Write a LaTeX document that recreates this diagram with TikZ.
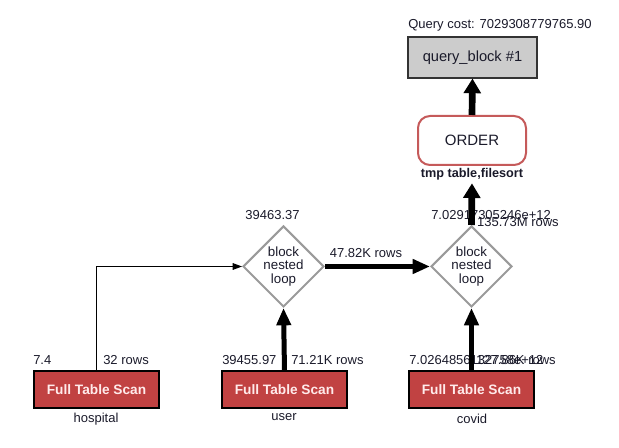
\documentclass[tikz,border=0pt]{standalone}
\usepackage{fontspec}
\setmainfont{Liberation Sans}
\usetikzlibrary{positioning, shapes.geometric, arrows.meta}
\definecolor{xscan}{HTML}{C14242}
\definecolor{xorder}{HTML}{C55A5A}
\definecolor{xgrey}{HTML}{9A9A9A}
\definecolor{xtext}{HTML}{1A1A2A}
\tikzset{
	scanbox/.style={draw=black, fill=xscan, text=white!92!red, line width=0.8pt, inner sep=0pt,
		minimum width=93.75pt, minimum height=27.75pt, font=\bfseries\fontsize{10.25}{12}\selectfont},
	loopbox/.style={diamond, draw=xgrey, line width=1.5pt, inner sep=0pt, aspect=1,
		minimum width=60.75pt, minimum height=60.75pt, align=center, text=xtext,
		font=\fontsize{10}{10}\selectfont},
	orderbox/.style={draw=xorder, line width=1.5pt, rounded corners=9pt, inner sep=0pt,
		minimum width=81pt, minimum height=36.75pt, text=xtext, font=\fontsize{11.25}{13}\selectfont},
	blockbox/.style={draw=black!80, fill=gray!40, line width=0.8pt, inner sep=0pt,
		minimum width=96.75pt, minimum height=30.75pt, text=xtext, font=\fontsize{11}{13}\selectfont},
	lbl/.style={inner sep=0pt, text=xtext, font=\fontsize{9.75}{11}\selectfont},
	thinarrow/.style={line width=0.75pt, -{Triangle[length=7pt, width=5pt]}},
	fatarrow/.style={line width=3.75pt, -{Triangle[length=13pt, width=10.5pt]}},
	fatterarrow/.style={line width=5pt, -{Triangle[length=11pt, width=12.5pt]}},
}

\begin{document}
\begin{tikzpicture}[x=0.75pt, y=-0.75pt]
	\useasboundingbox (0,0) rectangle (619,448);

	% top of the plan
	\node[lbl] (cost) at (500,25) {Query cost: 7029308779765.90};
	\node[blockbox] (qblock) at (472.5,57.5) {query\_block \#1};
	\node[orderbox] (order) at (472,140.5) {ORDER};
	\node[lbl, font=\bfseries\fontsize{9.5}{11}\selectfont] (tmp) at (472,174.5) {tmp table,filesort};

	% joins
	\node[loopbox] (join1) at (283.5,266.5) {block\\nested\\loop};
	\node[loopbox] (join2) at (471.5,266.5) {block\\nested\\loop};
	\node[lbl] (join1cost) at (272.5,215) {39463.37};
	\node[lbl, anchor=west] (join2cost) at (431,215) {7.02917305246e+12};
	\node[lbl, anchor=east] (join2rows) at (559,222) {135.73M rows};
	\node[lbl] (join1rows) at (366,253) {47.82K rows};

	% table scans
	\node[scanbox] (hospital) at (96.5,389.5) {Full Table Scan};
	\node[scanbox] (user) at (284.5,389.5) {Full Table Scan};
	\node[scanbox] (covid) at (471.5,389.5) {Full Table Scan};
	\node[lbl] (hospitalname) at (96,419) {hospital};
	\node[lbl] (username) at (284,417) {user};
	\node[lbl] (covidname) at (472,419) {covid};

	\node[lbl, anchor=west] (hospitalcost) at (33,360) {7.4};
	\node[lbl, anchor=west] (hospitalrows) at (103,360) {32 rows};
	\node[lbl, anchor=west] (usercost) at (222,360) {39455.97};
	\node[lbl, anchor=west] (userrows) at (291,360) {71.21K rows};
	\node[lbl, anchor=west] (covidcost) at (409,360) {7.0264856132758e+12};
	\node[lbl, anchor=east] (covidrows) at (556,360) {127.86K rows};

	% connectors
	\draw[thinarrow] (hospital.north) |- (join1.west);
	\draw[fatarrow] (user.north) -- (join1.south);
	\draw[fatarrow] (covid.north) -- (join2.south);
	\draw[fatarrow] (join1.east) -- (join2.west);
	\draw[fatterarrow] (join2.north) -- ([yshift=-2pt]tmp.south);
	\draw[fatterarrow] (order.north) -- (qblock.south);
\end{tikzpicture}
\end{document}
